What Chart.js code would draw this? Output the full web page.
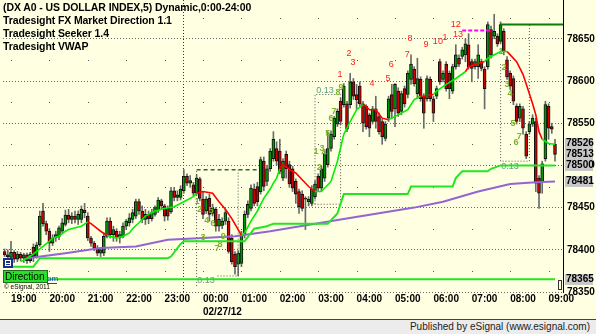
<!DOCTYPE html>
<html>
<head>
<meta charset="UTF-8" />
<script src="https://cdn.jsdelivr.net/npm/chart.js"></script>
<style>
  body { margin: 0; background: #ffffe1; }
  #wrap { position: relative; width: 596px; height: 334px; background: #ffffe1; overflow: hidden; }
  #titles { position: absolute; left: 3px; top: 1px; font: bold 10.5px "Liberation Sans", Arial, sans-serif; letter-spacing: -0.1px; line-height: 13px; color: #000; white-space: nowrap; }
  #footer { position: absolute; left: 0; top: 319px; width: 596px; height: 14px; background: #ececec; border-top: 1px solid #444; font: 10px "Liberation Sans", Arial, sans-serif; line-height: 14px; color: #222; text-align: right; }
  #footer span { padding-right: 6px; }
</style>
</head>
<body>
<div id="wrap">
  <canvas id="chart" width="596" height="319"></canvas>
  <div id="titles">
    (DX A0 - US DOLLAR INDEX,5) Dynamic,0:00-24:00<br>
    Tradesight FX Market Direction 1.1<br>
    Tradesight Seeker 1.4<br>
    Tradesight VWAP
  </div>
  <div id="footer"><span>Published by eSignal (www.esignal.com)</span></div>
</div>
<script>
// 5-minute bars, index 0 = 18:50, 19:00 = bar 2, 00:00 = bar 62
const hourBars = [2, 14, 26, 38, 50, 62, 74, 86, 98, 110, 122, 134, 146, 158, 170];
const hourLabels = ["19:00", "20:00", "21:00", "22:00", "23:00", "00:00", "01:00", "02:00",
  "03:00", "04:00", "05:00", "06:00", "07:00", "08:00", "09:00"];
const dayBar = 62;
const dayLabel = "02/27/12";

const barOpen = [
  78398,78394,78391,78397,78389,78395,78390,78394,78387,78403,
  78392,78406,78446,78431,78422,78408,78414,78416,78422,78430,
  78441,78436,78440,78436,78436,78447,78440,78414,78408,78402,
  78396,78396,78416,78434,78418,78422,78414,78416,78428,78432,
  78436,78440,78457,78446,78436,78442,78437,78442,78447,78458,
  78452,78449,78445,78470,78462,78462,78470,78487,78479,78477,
  78467,78484,78460,78446,78461,78443,78448,78428,78429,78434,
  78434,78414,78395,78383,78384,78418,78442,78449,78472,78475,
  78469,78505,78481,78496,78508,78520,78517,78485,78513,78501,
  78496,78481,78469,78466,78461,78457,78455,78463,78487,78473,
  78485,78501,78520,78534,78549,78576,78572,78573,78572,78599,
  78584,78594,78573,78570,78560,78552,78567,78558,78552,78532,
  78556,78584,78567,78588,78564,78591,78584,78602,78614,78585,
  78602,78582,78579,78602,78579,78582,78623,78602,78620,78609,
  78588,78617,78627,78629,78631,78643,78623,78617,78617,78623,
  78614,78617,78661,78653,78653,78647,78659,78625,78609,78603,
  78570,78556,78567,78537,78540,78549,78552,78485,78481,78508,
  78570,78546,78525
];
const barHigh = [
  78401,78400,78410,78399,78398,78397,78396,78396,78397,78407,
  78409,78446,78455,78434,78425,78418,78422,78428,78437,78447,
  78448,78444,78446,78446,78452,78455,78444,78416,78410,78405,
  78403,78420,78438,78438,78428,78425,78422,78432,78436,78443,
  78448,78460,78460,78452,78448,78446,78448,78452,78462,78460,
  78454,78452,78474,78474,78470,78476,78495,78490,78488,78480,
  78489,78486,78469,78463,78466,78454,78450,78442,78438,78448,
  78438,78418,78398,78399,78422,78446,78458,78477,78478,78480,
  78510,78510,78500,78520,78540,78528,78531,78508,78517,78505,
  78499,78484,78472,78470,78463,78463,78476,78482,78490,78499,
  78517,78540,78541,78558,78567,78580,78597,78576,78609,78603,
  78596,78599,78576,78572,78562,78570,78582,78562,78555,78552,
  78582,78596,78597,78592,78588,78594,78612,78631,78617,78627,
  78605,78585,78606,78605,78582,78594,78626,78612,78623,78612,
  78620,78643,78631,78640,78650,78656,78626,78626,78643,78626,
  78617,78670,78665,78679,78656,78670,78662,78629,78612,78606,
  78573,78573,78570,78540,78552,78560,78556,78488,78505,78576,
  78573,78550,78531
];
const barLow = [
  78392,78388,78386,78385,78386,78387,78385,78384,78385,78386,
  78390,78404,78428,78418,78398,78405,78410,78412,78420,78428,
  78432,78431,78432,78430,78432,78438,78411,78404,78399,78393,
  78392,78393,78414,78414,78410,78410,78408,78414,78424,78428,
  78432,78437,78442,78432,78430,78431,78434,78440,78444,78448,
  78434,78435,78443,78458,78458,78459,78467,78476,78474,78464,
  78465,78458,78437,78443,78434,78440,78422,78422,78425,78430,
  78396,78383,78371,78369,78380,78414,78438,78446,78452,78452,
  78466,78470,78476,78493,78505,78500,78490,78482,78485,78474,
  78469,78455,78443,78446,78424,78452,78452,78460,78470,78470,
  78481,78498,78517,78531,78546,78548,78569,78540,78568,78578,
  78567,78570,78540,78543,78534,78549,78544,78537,78525,78529,
  78552,78556,78546,78558,78560,78569,78580,78596,78594,78579,
  78576,78544,78576,78576,78552,78579,78596,78599,78588,78579,
  78585,78614,78617,78626,78623,78614,78599,78614,78603,78612,
  78567,78614,78627,78650,78641,78644,78631,78602,78590,78572,
  78549,78552,78537,78508,78537,78546,78469,78449,78467,78505,
  78531,78538,78505
];
const barClose = [
  78394,78392,78397,78389,78395,78390,78394,78387,78395,78392,
  78406,78440,78431,78422,78408,78414,78418,78426,78432,78441,
  78436,78440,78436,78442,78448,78444,78414,78408,78402,78396,
  78400,78416,78434,78418,78424,78414,78418,78428,78434,78438,
  78444,78457,78446,78436,78442,78437,78444,78450,78459,78452,
  78440,78440,78470,78462,78465,78472,78487,78479,78482,78467,
  78485,78461,78442,78460,78442,78450,78428,78436,78434,78444,
  78398,78386,78380,78396,78418,78442,78454,78473,78455,78457,
  78507,78475,78496,78517,78531,78505,78493,78505,78496,78478,
  78473,78466,78451,78449,78460,78460,78472,78478,78473,78496,
  78513,78520,78537,78556,78564,78552,78594,78543,78599,78582,
  78578,78573,78550,78546,78544,78567,78552,78540,78534,78549,
  78579,78564,78596,78562,78585,78573,78609,78620,78597,78603,
  78579,78562,78603,78579,78562,78591,78599,78609,78591,78591,
  78617,78631,78620,78637,78644,78617,78615,78623,78631,78615,
  78591,78667,78631,78659,78644,78667,78635,78605,78594,78576,
  78552,78570,78544,78511,78549,78556,78479,78467,78502,78572,
  78544,78543,78513
];

// FX Market Direction average, read at selected bars; g = green, r = red
const maBars = [5,7,9,10,12,14,15,17,19,20,24,26,27,29,30,32,34,35,37,39,40,42,44,47,50,53,56,59,60,
  62,65,67,69,71,73,74,75,77,79,81,83,84,85,86,87,89,91,93,95,97,99,102,104,106,108,110,112,
  113,114,116,118,120,121,124,126,128,130,131,134,135,138,141,144,145,150,151,155,157,
  158,160,162,164,165,166,167,168,170,172];
const maVals = [78386,78390,78395,78398,78404,78410,78414,78416,78422,78424,78428,78433,78431,78425,78422,78417,
  78415,78414,78416,78420,78425,78432,78440,78446,78449,78451,78457,78463,78467,
  78469,78467,78457,78448,78437,78424,78417,78420,78434,78446,78461,78472,78479,78485,78496,
  78501,78495,78491,78483,78475,78469,78469,78481,78505,78537,78552,78566,78572,
  78570,78566,78566,78556,78554,78556,78562,78566,78578,78582,78582,78584,78588,78596,78603,78611,
  78617,78623,78627,78635,78635,78631,78623,78608,78585,78573,78560,78540,78531,78526,78525];
const maDir = ["g","g","g","g","g","g","g","g","g","g","g","g","r","r","r","r","g","g","g","g","g","g","g","g","g","g","g","g","g",
  "r","r","r","r","r","r","r","g","g","g","g","g","g","g","g","r","r","r","r","r","r","g","g","g","g","g","g","g",
  "r","r","r","r","r","g","g","g","g","g","r","r","g","g","g","g","r","r","g","g","g",
  "r","r","r","r","r","r","r","r","g","g"];

// Seeker trailing line
const stepBars = [0, 9, 11, 51, 52, 55, 56, 75, 78, 82, 84, 101, 104, 106, 126, 127, 140, 141, 143, 151, 152, 155, 172];
const stepVals = [78380, 78380, 78390, 78390, 78392, 78407, 78410, 78410, 78425, 78428, 78431, 78431, 78443, 78466,
  78466, 78475, 78475, 78485, 78493, 78493, 78496, 78500, 78500];

// VWAP
const vwapBars = [7, 19, 30, 41, 51, 62, 72, 83, 105, 128, 137, 148, 158, 166, 172];
const vwapVals = [78390, 78396, 78402, 78404, 78412, 78414, 78416, 78422, 78436, 78450, 78457, 78469, 78478, 78480, 78481];

const directionLevel = 78365;
const targetLevel = 78667;   // dark green line, bars 155..174
const targetBars = [155, 174.5];
const magentaLevel = 78660;
const magentaBars = [143, 152];

// Seeker boxes: [bar, price] paths, null = break
const boxPaths = [
  [[60, 78357], [60, 78495], null, [73, 78495], [73, 78369], [66, 78369]],
  [[97, 78454], [97, 78584], [105, 78584], [105, 78454], [94.5, 78454]],
  [[155, 78620], [155, 78505], [164, 78505], [164, 78667]]
];
const boxTop = [[60, 78495], [79, 78495]];

// countdown (red) and setup (green) numbers
const countText = ["1","2","3","4","5","6","7","8","9","10","1","12","13"];
const countBar = [104.8, 107.6, 108.9, 114.8, 119.8, 120.8, 125.8, 126.7, 131.7, 135.4, 137.6, 141, 141.7];
const countPrice = [78608, 78633, 78622, 78597, 78603, 78620, 78631, 78650, 78643, 78647, 78652, 78667, 78655];
const setupText = ["1","2","3","4","5","6","7","8","9", "1","2","3","4","5","6","7","8","9", "1","2","3","4","5","6","7"];
const setupBar = [60.2, 61, 62, 63.2, 64.5, 65.1, 66.4, 67.3, 68.3, 97.3, 98.3, 99.2, 99.8, 101, 102, 102.9, 104.2, 105.1,
  155.1, 156.1, 157, 157.9, 158.9, 159.8, 160.8];
const setupPrice = [78457, 78448, 78415, 78435, 78447, 78431, 78402, 78406, 78416, 78517, 78498, 78520, 78515, 78538,
  78556, 78564, 78586, 78592, 78635, 78616, 78596, 78585, 78550, 78527, 78534];
const ratioText = ["0.13", "0.13", "0.13"];
const ratioBar = [62, 99.2, 157];
const ratioPrice = [78364, 78589, 78499];

// last values shown on the price axis
const lastValues = [78526, 78513, 78500, 78481, 78365];
const dotLevels = [78375, 78425, 78475, 78525, 78575, 78625, 78675];

const GREEN = "#00f000";
const RED = "#ff0000";

const toPts = (bars, vals) => bars.map((b, i) => ({ x: b, y: vals[i] }));
const pathPts = (path) => {
  const out = [];
  path.forEach((p, i) => {
    if (p === null) out.push({ x: path[i - 1][0], y: null });
    else out.push({ x: p[0], y: p[1] });
  });
  return out;
};

const bodies = barOpen.map((o, i) => ({ x: i, y: [o, barClose[i]] }));
const wicks = barLow.map((l, i) => ({ x: i, y: [l, barHigh[i]] }));
const bodyColors = barOpen.map((o, i) => (barClose[i] >= o ? "#009a00" : "#d00000"));

const lineBase = { type: "line", pointRadius: 0, tension: 0, fill: false, order: 0 };

const datasets = [
  Object.assign({}, lineBase, {
    data: toPts(maBars, maVals), borderWidth: 1.6, borderColor: GREEN,
    segment: { borderColor: (c) => (maDir[c.p1DataIndex] === "r" ? RED : GREEN) }
  }),
  Object.assign({}, lineBase, { data: toPts(stepBars, stepVals), borderWidth: 2, borderColor: "#22e622" }),
  Object.assign({}, lineBase, { data: toPts(vwapBars, vwapVals), borderWidth: 2, borderColor: "#9463d6" }),
  Object.assign({}, lineBase, { data: [{ x: -0.5, y: directionLevel }, { x: 172, y: directionLevel }], borderWidth: 2, borderColor: "#22e622" }),
  Object.assign({}, lineBase, { data: targetBars.map((b) => ({ x: b, y: targetLevel })), borderWidth: 2, borderColor: "#0a7a0a" }),
  Object.assign({}, lineBase, { data: magentaBars.map((b) => ({ x: b, y: magentaLevel })), borderWidth: 2, borderColor: "#ff00ff", borderDash: [4, 2] }),
  Object.assign({}, lineBase, { data: pathPts(boxTop), borderWidth: 1.5, borderColor: "#2d6b2d", borderDash: [4, 3] })
];
boxPaths.forEach((p) => {
  datasets.push(Object.assign({}, lineBase, { data: pathPts(p), borderWidth: 1, borderColor: "#555", borderDash: [1, 2], order: 1 }));
});
datasets.push({
  type: "bar", data: bodies, backgroundColor: bodyColors, borderColor: "#111", borderWidth: 1,
  borderSkipped: false, barThickness: 3, grouped: false, order: 5
});
datasets.push({
  type: "bar", data: wicks, backgroundColor: "#6a6a6a", barThickness: 1, grouped: false, order: 6
});

const extras = {
  id: "extras",
  beforeDatasetsDraw(chart) {
    const { ctx, scales: { x, y } } = chart;
    ctx.save();
    ctx.fillStyle = "#555";
    hourBars.forEach((b) => {
      const px = Math.round(x.getPixelForValue(b));
      dotLevels.forEach((v) => ctx.fillRect(px, Math.round(y.getPixelForValue(v)), 1, 1));
    });
    ctx.restore();
  },
  afterDraw(chart) {
    const { ctx, scales: { x, y } } = chart;
    ctx.save();
    ctx.textAlign = "center";
    ctx.textBaseline = "middle";

    ctx.font = '9px "Liberation Sans", Arial, sans-serif';
    ctx.fillStyle = "#ff1a1a";
    countText.forEach((t, i) => ctx.fillText(t, x.getPixelForValue(countBar[i]), y.getPixelForValue(countPrice[i])));
    ctx.font = 'bold 9px "Liberation Sans", Arial, sans-serif';
    ctx.fillStyle = "#7ab22c";
    setupText.forEach((t, i) => ctx.fillText(t, x.getPixelForValue(setupBar[i]), y.getPixelForValue(setupPrice[i])));
    ctx.font = '9px "Liberation Sans", Arial, sans-serif';
    ctx.fillStyle = "#5f9f86";
    ratioText.forEach((t, i) => ctx.fillText(t, x.getPixelForValue(ratioBar[i]) + 3, y.getPixelForValue(ratioPrice[i])));

    // last value tags on the price axis
    ctx.textAlign = "left";
    ctx.font = 'bold 10px "Liberation Sans", Arial, sans-serif';
    lastValues.forEach((v) => {
      const py = Math.round(y.getPixelForValue(v));
      ctx.fillStyle = "#c8c8c8";
      ctx.fillRect(565, py - 5, 28, 11);
      ctx.fillStyle = "#000";
      ctx.fillText(String(v), 566, py + 0.5);
    });

    // Direction tag, icon and copyright
    const dy = Math.round(y.getPixelForValue(directionLevel));
    ctx.fillStyle = "#1a3cc8";
    ctx.font = '8px "Liberation Sans", Arial, sans-serif';
    ctx.fillText("om", 47, dy);
    ctx.fillRect(47, dy + 4, 10, 1);
    ctx.fillStyle = "#28e028";
    ctx.fillRect(3, dy - 9, 45, 13);
    ctx.strokeStyle = "#1f6f1f";
    ctx.strokeRect(3.5, dy - 8.5, 44, 12);
    ctx.fillStyle = "#000";
    ctx.font = '10px "Liberation Sans", Arial, sans-serif';
    ctx.fillText("Direction", 5, dy - 2);

    ctx.fillStyle = "#1b2d8a";
    ctx.fillRect(3, dy - 21, 10, 10);
    ctx.strokeStyle = "#fff";
    ctx.strokeRect(5.5, dy - 18.5, 5, 5);
    ctx.fillStyle = "#fff";
    ctx.fillRect(5, dy - 16, 6, 1);

    ctx.fillStyle = "#000";
    ctx.font = '6.5px "Liberation Sans", Arial, sans-serif';
    ctx.fillText("\u00a9 eSignal, 2011", 4, dy + 8);

    // scroll arrow
    ctx.font = '13px "DejaVu Sans", sans-serif';
    ctx.fillStyle = "#fff";
    ctx.strokeStyle = "#333";
    ctx.fillText("\u21e8", 547, 286);
    ctx.strokeRect(558.5, 280.5, 3, 9);
    ctx.restore();
  }
};

new Chart(document.getElementById("chart"), {
  type: "bar",
  data: { datasets: datasets },
  options: {
    responsive: false,
    animation: false,
    events: [],
    layout: { padding: { left: 3, top: 0, right: 0, bottom: 0 } },
    plugins: { legend: { display: false }, tooltip: { enabled: false } },
    scales: {
      x: {
        type: "linear", min: -0.5, max: 174.5, offset: false,
        afterBuildTicks: (s) => { s.ticks = hourBars.map((v) => ({ value: v })); },
        afterFit: (s) => { s.height = 27; s.paddingLeft = 0; s.paddingRight = 0; },
        ticks: {
          autoSkip: false, maxRotation: 0, align: "start", padding: 1, color: "#000",
          font: { family: '"Liberation Sans", Arial, sans-serif', size: 10, weight: "bold", lineHeight: 1.3 },
          callback: (v) => {
            const k = hourBars.indexOf(v);
            if (k < 0) return "";
            return v === dayBar ? [hourLabels[k], dayLabel] : hourLabels[k];
          }
        },
        grid: {
          drawTicks: false, lineWidth: 1,
          color: (c) => (c.tick && c.tick.value === dayBar ? "#333" : "rgba(0,0,0,0)")
        },
        border: { display: false, dash: [1, 2] }
      },
      y: {
        position: "right", min: 78350, max: 78696,
        afterFit: (s) => { s.width = 33; s.paddingTop = 0; s.paddingBottom = 0; },
        ticks: {
          stepSize: 50, includeBounds: false, padding: 4, color: "#000",
          font: { family: '"Liberation Sans", Arial, sans-serif', size: 10, weight: "bold" },
          callback: (v) => String(v)
        },
        grid: { drawTicks: false, color: "#666", lineWidth: 1 },
        border: { display: true, color: "#000", width: 1, dash: [1, 2] }
      }
    }
  },
  plugins: [extras]
});
</script>
</body>
</html>
